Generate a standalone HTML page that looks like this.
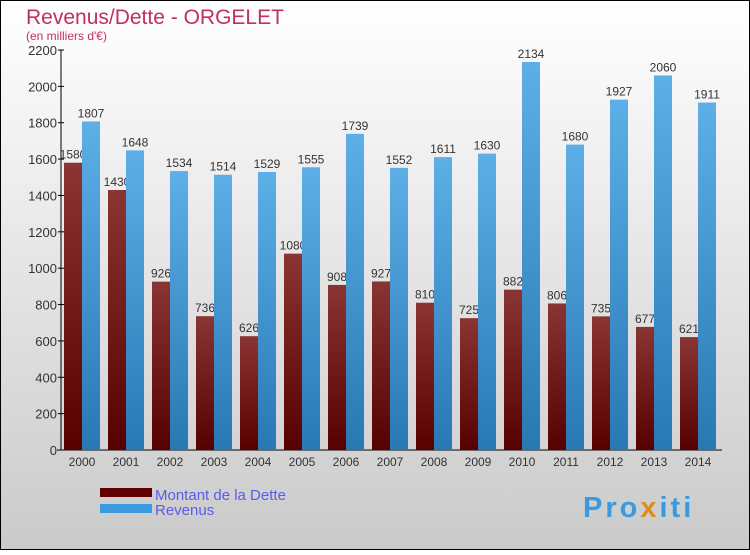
<!DOCTYPE html>
<html><head><meta charset="utf-8"><style>
body{margin:0}
svg text{font-family:"Liberation Sans",sans-serif}
</style></head><body>
<svg id="c" width="750" height="550" xmlns="http://www.w3.org/2000/svg">
<defs>
<linearGradient id="bg" x1="0" y1="0" x2="0" y2="1"><stop offset="0" stop-color="#ffffff"/><stop offset="1" stop-color="#cacaca"/></linearGradient>
<linearGradient id="gd" x1="0" y1="0" x2="0" y2="1"><stop offset="0" stop-color="#8a3434"/><stop offset="1" stop-color="#560000"/></linearGradient>
<linearGradient id="gr" x1="0" y1="0" x2="0" y2="1"><stop offset="0" stop-color="#5eaee8"/><stop offset="1" stop-color="#2878b4"/></linearGradient>
</defs>
<rect x="0.5" y="0.5" width="749" height="549" fill="url(#bg)" stroke="#000"/>
<text x="26" y="24" font-size="21" fill="#c0305f">Revenus/Dette - ORGELET</text>
<text x="26" y="40" font-size="12" fill="#c0305f">(en milliers d'€)</text>
<g id="plot"></g>
<g>
<rect x="100" y="488" width="52" height="9" fill="#600000"/>
<text x="155" y="500" font-size="15" fill="#5a5aee">Montant de la Dette</text>
<rect x="100" y="504" width="52" height="9" fill="#3a9ae0"/>
<text x="155" y="515" font-size="15" fill="#5a5aee">Revenus</text>
</g>
<text x="583" y="517" font-size="29" font-weight="bold" letter-spacing="3" fill="#3a9ae0">Pro<tspan fill="#e08a20">x</tspan>iti</text>
</svg>
<script>
const years=["2000","2001","2002","2003","2004","2005","2006","2007","2008","2009","2010","2011","2012","2013","2014"];
const dette=[1580,1430,926,736,626,1080,908,927,810,725,882,806,735,677,621];
const revenus=[1807,1648,1534,1514,1529,1555,1739,1552,1611,1630,2134,1680,1927,2060,1911];
const yTicks=[0,200,400,600,800,1000,1200,1400,1600,1800,2000,2200];
const NS="http://www.w3.org/2000/svg";
const g=document.getElementById('plot');
const y0=450,yTop=50,yMax=2200,x0=61,step=44,bw=18;
const Y=v=>y0-(v/yMax)*(y0-yTop);
const X=i=>x0+21+i*step;
function mk(t,a,txt){const e=document.createElementNS(NS,t);for(const k in a)e.setAttribute(k,a[k]);if(txt!==undefined)e.textContent=txt;g.appendChild(e);return e;}
let ax=mk('line',{x1:x0,y1:y0,x2:x0,y2:yTop,stroke:'#000'});


let bx=mk('line',{x1:x0-4,y1:y0,x2:722,y2:y0,stroke:'#000'});


yTicks.forEach(v=>{
 let t=mk('line',{x1:x0-3,y1:Y(v),x2:x0+3,y2:Y(v),stroke:'#000'});
 
 
 let l=mk('text',{x:x0-4,y:Y(v)+5,'font-size':13,'text-anchor':'end',fill:'#333'},v);
 
 
});
years.forEach((yr,i)=>{
 const c=X(i);
 let b=mk('rect',{x:c-bw,y:Y(dette[i]),width:bw,height:y0-Y(dette[i]),fill:'url(#gd)'});
 
 
 let lb=mk('text',{x:c-bw/2,y:Y(dette[i])-4,'font-size':12,'text-anchor':'middle',fill:'#333'},dette[i]);
 
 
 let r=mk('rect',{x:c,y:Y(revenus[i]),width:bw,height:y0-Y(revenus[i]),fill:'url(#gr)'});
 
 
 let lr=mk('text',{x:c+bw/2,y:Y(revenus[i])-4,'font-size':12,'text-anchor':'middle',fill:'#333'},revenus[i]);
 
 
 let xl=mk('text',{x:c,y:466,'font-size':12,'text-anchor':'middle',fill:'#333'},yr);
 
 
});
</script>
</body></html>
